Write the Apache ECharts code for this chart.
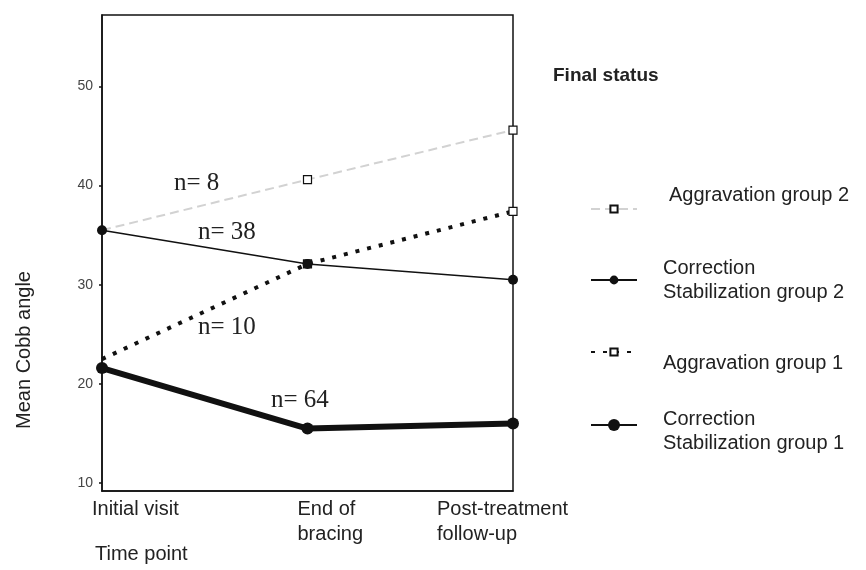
<!DOCTYPE html>
<html>
<head>
<meta charset="utf-8">
<script src="https://cdn.jsdelivr.net/npm/echarts@6/dist/echarts.min.js"></script>
<style>
html,body{margin:0;padding:0;background:#fff;}
#chart{width:866px;height:570px;}
</style>
</head>
<body>
<div id="chart"></div>
<script>
// ---- data ----
const timePoints = ['Initial visit', 'End of\nbracing', 'Post-treatment\nfollow-up'];
const aggravation2 = [35.5, 40.6, 45.6];
const correction2 = [35.5, 32.1, 30.5];
const aggravation1 = [22.5, 32.1, 37.4];
const correction1 = [21.6, 15.5, 16.0];
const groupNames = ['Aggravation group 2', 'Correction\nStabilization group 2', 'Aggravation group 1', 'Correction\nStabilization group 1'];
const groupSizes = ['n= 8', 'n= 38', 'n= 10', 'n= 64'];
const yTicks = [10, 20, 30, 40, 50];
const yRange = [9.2, 57.2];
const legendTitle = 'Final status';
const xTitle = 'Time point';
const yTitle = 'Mean Cobb angle';

const SANS = '"Liberation Sans", Arial, sans-serif';
const SERIF = '"Liberation Serif", "Times New Roman", serif';

const chart = echarts.init(document.getElementById('chart'), null, {renderer: 'canvas'});

// legend text lines, optionally with a blank spacer line above (+) or below (-) to offset text from its icon
function legendFor(name, top, itemHeight, padLeft, spacerBefore, spacerAfter) {
  return {
    data: [name], left: 590, top: top, padding: 0, orient: 'vertical',
    itemWidth: 46, itemHeight: itemHeight, selectedMode: false,
    formatter: function (n) {
      let lines = n.split('\n').map(function (s) { return '{a|' + s + '}'; });
      if (spacerBefore) lines.unshift('{b| }');
      if (spacerAfter) lines.push('{c| }');
      return lines.join('\n');
    },
    textStyle: {
      fontFamily: SANS, fontSize: 20, lineHeight: 24, color: '#222', padding: [0, 0, 0, padLeft],
      rich: {
        a: {fontFamily: SANS, fontSize: 20, lineHeight: 24, color: '#222'},
        b: {fontSize: 10, lineHeight: spacerBefore || 1},
        c: {fontSize: 10, lineHeight: spacerAfter || 1}
      }
    }
  };
}
// first point of the two aggravation lines carries no visible marker in the original
function hideFirst(size) {
  return function (v, p) { return p.dataIndex === 0 ? 0 : size; };
}

const option = {
  animation: false,
  backgroundColor: '#fff',
  title: {
    text: legendTitle, left: 553, top: 66, padding: 0,
    textStyle: {fontFamily: SANS, fontSize: 19, fontWeight: 'bold', color: '#222'}
  },
  legend: [
    legendFor(groupNames[0], 183, 9, 27, 0, 28),
    legendFor(groupNames[1], 256, 11, 21, 0, 0),
    legendFor(groupNames[2], 329, 9, 21, 22, 0),
    legendFor(groupNames[3], 395, 15, 21, 12, 0)
  ],
  grid: {
    left: 102, top: 15, width: 411, height: 476,
    containLabel: false, outerBoundsMode: 'none',
    show: true, borderColor: '#111', borderWidth: 1.5, backgroundColor: 'transparent'
  },
  xAxis: {
    type: 'category', data: timePoints, boundaryGap: false,
    axisLine: {lineStyle: {color: '#111', width: 1.5}},
    axisTick: {show: false},
    splitLine: {show: false},
    axisLabel: {
      interval: 0, hideOverlap: false, margin: 6,
      fontFamily: SANS, fontSize: 20, lineHeight: 25, color: '#222',
      align: 'left', alignMaxLabel: 'center', padding: [0, 10, 0, -10],
      formatter: function (v, i) {
        if (i === timePoints.length - 1) {
          return v.split('\n').map(function (s) { return '{w|' + s + '}'; }).join('\n');
        }
        return v;
      },
      rich: {w: {width: 132, align: 'left', fontFamily: SANS, fontSize: 20, lineHeight: 25, color: '#222'}}
    }
  },
  yAxis: {
    type: 'value', min: yRange[0], max: yRange[1], splitNumber: 5,
    name: yTitle, nameLocation: 'middle', nameGap: 68,
    nameTextStyle: {fontFamily: SANS, fontSize: 20, color: '#222', padding: [0, 194, 0, 0]},
    axisLine: {show: true, lineStyle: {color: '#111', width: 1.5}},
    axisTick: {show: true, length: 3, customValues: yTicks, lineStyle: {color: '#111', width: 1.5}},
    splitLine: {show: false},
    axisLabel: {
      margin: 9, fontFamily: SANS, fontSize: 14, color: '#444', customValues: yTicks,
      formatter: function (v) { return yTicks.indexOf(Math.round(v * 10) / 10) >= 0 ? String(v) : ''; }
    }
  },
  series: [
    {
      name: groupNames[0], type: 'line', data: aggravation2, z: 2,
      symbol: 'rect', symbolSize: hideFirst(8),
      lineStyle: {color: '#d2d2d2', width: 2, type: [9, 5]},
      itemStyle: {color: '#fff', borderColor: '#111', borderWidth: 1.2}
    },
    {
      name: groupNames[2], type: 'line', data: aggravation1, z: 3,
      symbol: 'rect', symbolSize: hideFirst(8),
      lineStyle: {color: '#111', width: 4, type: [4, 8]},
      itemStyle: {color: '#fff', borderColor: '#111', borderWidth: 1.2}
    },
    {
      name: groupNames[1], type: 'line', data: correction2, z: 4,
      symbol: 'circle', symbolSize: 10,
      lineStyle: {color: '#111', width: 1.5},
      itemStyle: {color: '#111'}
    },
    {
      name: groupNames[3], type: 'line', data: correction1, z: 5,
      symbol: 'circle', symbolSize: 12,
      lineStyle: {color: '#111', width: 6},
      itemStyle: {color: '#111'}
    }
  ],
  graphic: [
    {type: 'text', left: 95, top: 544, style: {text: xTitle, font: '20px ' + SANS, fill: '#222'}},
    {type: 'text', left: 174, top: 171, style: {text: groupSizes[0], font: '25px ' + SERIF, fill: '#222'}},
    {type: 'text', left: 198, top: 220, style: {text: groupSizes[1], font: '25px ' + SERIF, fill: '#222'}},
    {type: 'text', left: 198, top: 315, style: {text: groupSizes[2], font: '25px ' + SERIF, fill: '#222'}},
    {type: 'text', left: 271, top: 388, style: {text: groupSizes[3], font: '25px ' + SERIF, fill: '#222'}}
  ]
};

chart.setOption(option);
</script>
</body>
</html>
